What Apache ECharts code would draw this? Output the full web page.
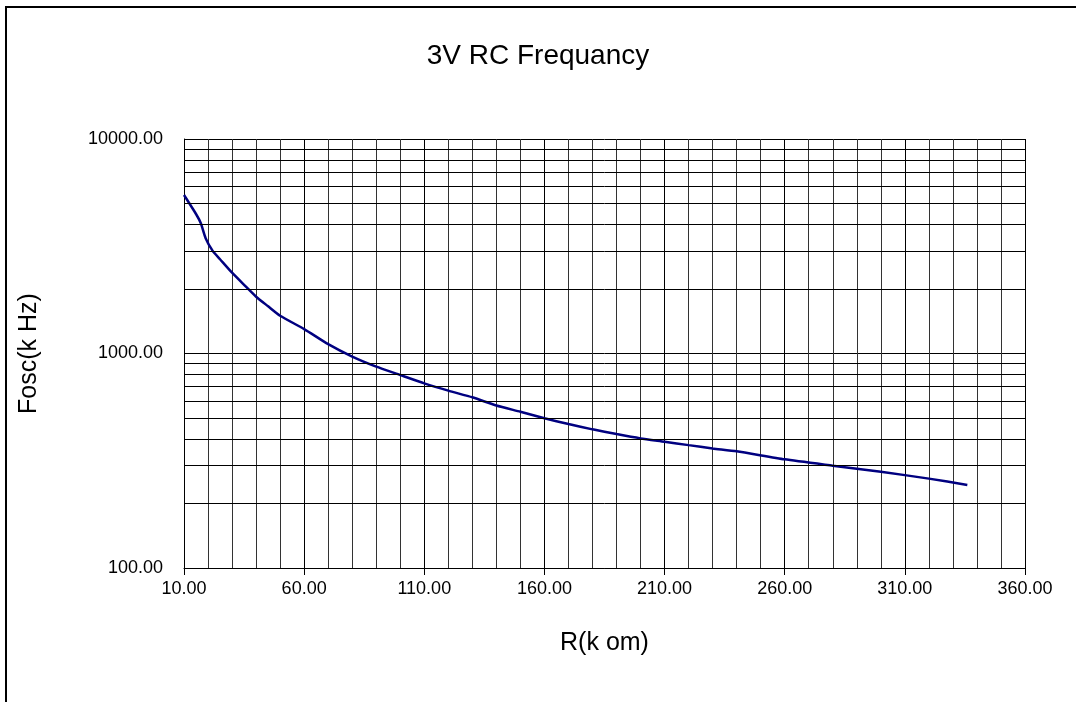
<!DOCTYPE html>
<html>
<head>
<meta charset="utf-8">
<title>3V RC Frequancy</title>
<script src="https://cdn.jsdelivr.net/npm/echarts@6/dist/echarts.min.js"></script>
<style>
  html, body { margin: 0; padding: 0; background: #fff; }
  #chart { width: 1076px; height: 702px; }
</style>
</head>
<body>
<div id="chart"></div>
<script>
var rValues = [10, 15, 17, 19, 22, 25, 30, 35, 40, 45, 50, 60, 70, 80, 90, 100,
  110, 120, 130, 140, 150, 160, 170, 180, 190, 200, 210, 220, 230, 240, 260,
  280, 300, 320, 336];
var fosc = [5480, 4470, 4050, 3450, 3000, 2750, 2380, 2090, 1840, 1660, 1500,
  1300, 1105, 967, 868, 794, 726, 671, 625, 572, 535, 499, 469, 443, 421, 402,
  388, 374, 361, 350, 321, 300, 281, 261, 244];
// minor horizontal grid of the log axis
var logGrid = [200, 300, 400, 500, 600, 700, 800, 900,
  2000, 3000, 4000, 5000, 6000, 7000, 8000, 9000];

var FONT = "'Liberation Sans', Arial, sans-serif";

var chart = echarts.init(document.getElementById("chart"));

var points = rValues.map(function (r, i) { return [r, fosc[i]]; });

chart.setOption({
  animation: false,
  backgroundColor: "#fff",
  title: {
    text: "3V RC Frequancy",
    left: "center",
    top: 37,
    textStyle: { fontFamily: FONT, fontSize: 28, fontWeight: "normal", color: "#000" }
  },
  grid: { left: 184, right: 51, top: 139, bottom: 134 },
  xAxis: {
    type: "value",
    min: 10,
    max: 360,
    interval: 50,
    name: "R(k om)",
    nameLocation: "middle",
    nameGap: 63,
    nameTextStyle: { fontFamily: FONT, fontSize: 25, color: "#000" },
    axisLine: { lineStyle: { color: "#000", width: 1 } },
    axisTick: { show: true, length: 7, lineStyle: { color: "#000" } },
    axisLabel: {
      margin: 12,
      fontFamily: FONT,
      fontSize: 18,
      color: "#000",
      formatter: function (v) { return v.toFixed(2); }
    },
    splitLine: { show: true, lineStyle: { color: "#000", width: 1 } },
    minorTick: { show: false, splitNumber: 5 },
    minorSplitLine: { show: true, lineStyle: { color: "#333", width: 1 } }
  },
  yAxis: {
    type: "log",
    logBase: 10,
    min: 100,
    max: 10000,
    name: "Fosc(k Hz)",
    nameLocation: "middle",
    nameGap: 142,
    nameTextStyle: { fontFamily: FONT, fontSize: 25, color: "#000" },
    axisLine: { show: true, lineStyle: { color: "#000", width: 1 } },
    axisTick: { show: true, inside: true, length: 6, lineStyle: { color: "#000" } },
    axisLabel: {
      margin: 21,
      fontFamily: FONT,
      fontSize: 18,
      color: "#000",
      formatter: function (v) { return Number(v).toFixed(2); }
    },
    splitLine: { show: true, lineStyle: { color: "#000", width: 1 } }
  },
  graphic: [{
    type: "rect",
    shape: { x: 6, y: 7, width: 1200, height: 1200 },
    style: { fill: null, stroke: "#000", lineWidth: 2 },
    silent: true
  }],
  series: [{
    type: "line",
    data: points,
    showSymbol: false,
    smooth: 0.2,
    lineStyle: { color: "#000080", width: 2.5 },
    markLine: {
      silent: true,
      symbol: "none",
      label: { show: false },
      lineStyle: { color: "#000", width: 1, type: "solid" },
      data: logGrid.map(function (v) { return { yAxis: v }; })
    }
  }]
});
</script>
</body>
</html>
